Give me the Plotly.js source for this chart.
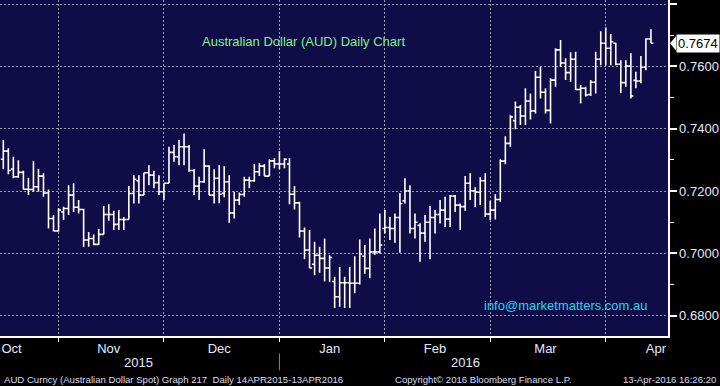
<!DOCTYPE html>
<html>
<head>
<meta charset="utf-8">
<script src="https://cdn.plot.ly/plotly-3.0.1.min.js"></script>
<style>
  html, body { margin: 0; padding: 0; background: #000; }
  #chart { width: 720px; height: 386px; }
</style>
</head>
<body>
<div id="chart"></div>
<script>
// ---- Data (AUD daily OHLC, mid-Oct 2015 .. mid-Apr 2016) ----
const open = [0.7302,0.7328,0.7271,0.7246,0.7260,0.7206,0.7205,0.7214,0.7248,0.7194,
0.7112,0.7072,0.7133,0.7144,0.7187,0.7148,0.7141,0.7043,0.7048,0.7029,
0.7061,0.7125,0.7125,0.7093,0.7109,0.7109,0.7192,0.7233,0.7187,0.7259,
0.7251,0.7227,0.7198,0.7225,0.7324,0.7310,0.7342,0.7342,0.7266,0.7216,
0.7230,0.7280,0.7187,0.7241,0.7193,0.7230,0.7130,0.7171,0.7189,0.7235,
0.7233,0.7262,0.7280,0.7248,0.7297,0.7287,0.7287,0.7287,0.7190,0.7162,
0.7072,0.7011,0.6965,0.6994,0.6984,0.6953,0.6910,0.6861,0.6906,0.6906,
0.6904,0.6904,0.6991,0.6952,0.7005,0.7005,0.7080,0.7083,0.7080,0.7115,
0.7169,0.7200,0.7080,0.7090,0.7065,0.7100,0.7115,0.7125,0.7139,0.7110,
0.7184,0.7155,0.7150,0.7225,0.7201,0.7196,0.7233,0.7126,0.7139,0.7173,
0.7296,0.7353,0.7426,0.7469,0.7441,0.7489,0.7457,0.7565,0.7517,0.7459,
0.7556,0.7653,0.7611,0.7580,0.7623,0.7526,0.7530,0.7510,0.7549,0.7623,
0.7674,0.7658,0.7674,0.7607,0.7548,0.7601,0.7555,0.7553,0.7597,0.7688];

const high = [0.7364,0.7337,0.7310,0.7299,0.7265,0.7243,0.7296,0.7271,0.7257,0.7205,
0.7123,0.7146,0.7150,0.7219,0.7225,0.7171,0.7143,0.7069,0.7061,0.7078,
0.7152,0.7158,0.7137,0.7139,0.7117,0.7216,0.7251,0.7251,0.7259,0.7283,
0.7265,0.7251,0.7225,0.7342,0.7348,0.7364,0.7385,0.7348,0.7270,0.7246,
0.7334,0.7283,0.7270,0.7283,0.7280,0.7251,0.7198,0.7195,0.7246,0.7246,
0.7287,0.7289,0.7287,0.7302,0.7305,0.7328,0.7305,0.7305,0.7216,0.7166,
0.7083,0.7075,0.7037,0.7021,0.7048,0.6994,0.6925,0.6956,0.6925,0.6956,
0.6991,0.7045,0.7027,0.7048,0.7080,0.7128,0.7139,0.7117,0.7128,0.7193,
0.7241,0.7219,0.7128,0.7097,0.7123,0.7152,0.7139,0.7171,0.7182,0.7187,
0.7187,0.7160,0.7248,0.7257,0.7212,0.7244,0.7257,0.7169,0.7190,0.7302,
0.7376,0.7444,0.7487,0.7476,0.7530,0.7513,0.7585,0.7599,0.7530,0.7562,
0.7658,0.7685,0.7626,0.7645,0.7647,0.7540,0.7535,0.7556,0.7647,0.7713,
0.7725,0.7704,0.7676,0.7620,0.7620,0.7642,0.7583,0.7633,0.7690,0.7719];

const low = [0.7270,0.7254,0.7241,0.7243,0.7205,0.7187,0.7198,0.7198,0.7182,0.7080,
0.7071,0.7070,0.7107,0.7123,0.7133,0.7128,0.7021,0.7021,0.7027,0.7027,
0.7061,0.7105,0.7075,0.7075,0.7075,0.7109,0.7160,0.7160,0.7187,0.7219,
0.7209,0.7187,0.7171,0.7225,0.7294,0.7283,0.7283,0.7262,0.7187,0.7171,
0.7227,0.7187,0.7160,0.7161,0.7180,0.7098,0.7112,0.7155,0.7182,0.7209,
0.7230,0.7248,0.7248,0.7248,0.7273,0.7270,0.7273,0.7158,0.7141,0.7051,
0.6981,0.6952,0.6930,0.6938,0.6910,0.6909,0.6825,0.6829,0.6825,0.6825,
0.6872,0.6900,0.6935,0.6920,0.6995,0.7000,0.7064,0.7043,0.7034,0.7002,
0.7160,0.7064,0.7048,0.6973,0.7037,0.6981,0.7064,0.7096,0.7085,0.7085,
0.7133,0.7075,0.7137,0.7171,0.7148,0.7155,0.7117,0.7107,0.7109,0.7166,
0.7286,0.7342,0.7398,0.7412,0.7412,0.7430,0.7449,0.7497,0.7449,0.7417,
0.7535,0.7599,0.7556,0.7551,0.7524,0.7481,0.7503,0.7505,0.7513,0.7604,
0.7604,0.7604,0.7604,0.7514,0.7535,0.7497,0.7530,0.7546,0.7588,0.7674];

const close = [0.7328,0.7266,0.7246,0.7260,0.7206,0.7205,0.7214,0.7248,0.7194,0.7112,
0.7072,0.7139,0.7144,0.7187,0.7148,0.7141,0.7043,0.7048,0.7029,0.7061,
0.7125,0.7125,0.7093,0.7109,0.7109,0.7192,0.7238,0.7187,0.7259,0.7251,
0.7227,0.7198,0.7225,0.7324,0.7310,0.7342,0.7342,0.7266,0.7216,0.7230,
0.7280,0.7187,0.7241,0.7190,0.7230,0.7130,0.7171,0.7189,0.7235,0.7233,
0.7262,0.7280,0.7248,0.7297,0.7287,0.7287,0.7302,0.7190,0.7162,0.7072,
0.7011,0.6953,0.6994,0.6984,0.6953,0.6987,0.6861,0.6906,0.6906,0.6904,
0.6904,0.6998,0.6952,0.7005,0.7005,0.7027,0.7083,0.7080,0.7115,0.7160,
0.7200,0.7080,0.7100,0.7065,0.7100,0.7115,0.7125,0.7139,0.7110,0.7184,
0.7155,0.7150,0.7225,0.7201,0.7196,0.7233,0.7126,0.7139,0.7173,0.7296,
0.7353,0.7438,0.7469,0.7441,0.7489,0.7457,0.7565,0.7517,0.7459,0.7556,
0.7653,0.7611,0.7580,0.7623,0.7526,0.7530,0.7508,0.7549,0.7623,0.7674,
0.7658,0.7679,0.7607,0.7548,0.7601,0.7505,0.7553,0.7597,0.7688,0.7674];

// trading-day index of the first bar of each month (Oct is partially shown)
const monthNames = ['Oct','Nov','Dec','Jan','Feb','Mar','Apr'];
const monthStart = [-11, 11, 32, 55, 76, 97, 120, 141];
const years = ['2015','2016'];
const yearFirstBar = [0, 55];

const yTicks = [0.68, 0.70, 0.72, 0.74, 0.76, 0.78];
const yMinor = [0.69, 0.71, 0.73, 0.75, 0.77];

// ---- derived ----
const n = close.length;
const barIdx = close.map((_, i) => i);
const xRange = [-0.66, 132.4];
const gridIdx = monthStart.slice(1, -1);
let labelPos = monthNames.map((m, i) => (monthStart[i] + monthStart[i + 1] - 1) / 2);
labelPos[0] = Math.max(labelPos[0], xRange[0] + 2.3);
const yearMid = [ (yearFirstBar[0] + yearFirstBar[1] - 1) / 2, (yearFirstBar[1] + n - 1) / 2 ];
const last = close[n - 1];

const FONT = 'Liberation Sans, Arial, sans-serif';
const AXIS_TXT = '#e4e9ff';
const GRID = '#9a9aaa';

const trace = {
  type: 'ohlc',
  x: barIdx, open: open, high: high, low: low, close: close,
  increasing: { line: { color: '#ffffff', width: 1.6 } },
  decreasing: { line: { color: '#ffffff', width: 1.6 } },
  tickwidth: 0.5,
  hoverinfo: 'skip',
  showlegend: false
};

const layout = {
  width: 720, height: 386,
  margin: { l: 0, r: 52, t: 0, b: 50, pad: 0 },
  paper_bgcolor: '#000000',
  plot_bgcolor: '#100c48',
  showlegend: false,
  xaxis: {
    type: 'linear', range: xRange, fixedrange: true,
    rangeslider: { visible: false },
    tickmode: 'array', tickvals: labelPos, ticktext: monthNames,
    ticklabeloverflow: 'allow',
    ticks: '', showgrid: false, zeroline: false,
    showline: true, linecolor: '#ffffff', linewidth: 1.5,
    tickfont: { family: FONT, size: 13, color: AXIS_TXT },
    minor: {
      tickmode: 'array', tickvals: gridIdx,
      ticks: 'outside', ticklen: 4, tickwidth: 1, tickcolor: '#ffffff',
      showgrid: true, gridcolor: GRID, griddash: '2px,2px', gridwidth: 1
    }
  },
  yaxis: {
    side: 'right', range: [0.6735, 0.7813], fixedrange: true,
    tickmode: 'array', tickvals: yTicks,
    ticktext: yTicks.map(v => v >= 0.78 ? '' : v.toFixed(4)),
    ticks: 'outside', ticklen: 7, tickwidth: 2, tickcolor: '#ffffff',
    showgrid: true, gridcolor: GRID, griddash: '2px,2px', gridwidth: 1,
    zeroline: false,
    showline: true, linecolor: '#ffffff', linewidth: 1.5,
    tickfont: { family: FONT, size: 13, color: AXIS_TXT },
    minor: { tickmode: 'array', tickvals: yMinor, ticks: 'outside', ticklen: 4, tickwidth: 1, tickcolor: '#ffffff', showgrid: false }
  },
  shapes: [
    { type: 'line', xref: 'x', yref: 'paper', x0: yearFirstBar[1], x1: yearFirstBar[1], y0: -0.052, y1: -0.102,
      line: { color: '#8a8a8a', width: 1 } },
    { type: 'path', xref: 'paper', yref: 'y',
      path: `M 1.003 ${last} L 1.012 ${last + 0.0023} L 1.012 ${last - 0.0023} Z`,
      fillcolor: '#ffffff', line: { color: '#ffffff', width: 0 } }
  ],
  annotations: [
    { text: 'Australian Dollar (AUD) Daily Chart', xref: 'paper', yref: 'paper', x: 0.4544, y: 0.876,
      xanchor: 'center', yanchor: 'middle', showarrow: false,
      font: { family: FONT, size: 13, color: '#84ee84' } },
    { text: 'info@marketmatters.com.au', xref: 'paper', yref: 'paper', x: 0.847, y: 0.0915,
      xanchor: 'center', yanchor: 'middle', showarrow: false,
      font: { family: FONT, size: 13, color: '#18d8ee' } },
    { text: years[0], xref: 'x', yref: 'paper', x: yearMid[0], y: -0.0775, xanchor: 'center', yanchor: 'middle',
      showarrow: false, font: { family: FONT, size: 13, color: AXIS_TXT } },
    { text: years[1], xref: 'x', yref: 'paper', x: yearMid[1], y: -0.0775, xanchor: 'center', yanchor: 'middle',
      showarrow: false, font: { family: FONT, size: 13, color: AXIS_TXT } },
    { text: 'AUD Curncy (Australian Dollar Spot) Graph 217  Daily 14APR2015-13APR2016', xref: 'paper', yref: 'paper',
      x: 0.003, y: -0.129, xanchor: 'left', yanchor: 'middle', showarrow: false,
      font: { family: FONT, size: 9.6, color: '#d6dcf2' } },
    { text: 'Copyright© 2016 Bloomberg Finance L.P.', xref: 'paper', yref: 'paper',
      x: 0.588, y: -0.129, xanchor: 'left', yanchor: 'middle', showarrow: false,
      font: { family: FONT, size: 9.6, color: '#d6dcf2' } },
    { text: '13-Apr-2016 16:26:20', xref: 'paper', yref: 'paper',
      x: 1.0749, y: -0.129, xanchor: 'right', yanchor: 'middle', showarrow: false,
      font: { family: FONT, size: 9.6, color: '#d6dcf2' } },
    { text: last.toFixed(4), xref: 'paper', yref: 'y', x: 1.012, y: last,
      xanchor: 'left', yanchor: 'middle', showarrow: false, bgcolor: '#ffffff', borderpad: 1,
      font: { family: FONT, size: 13, color: '#000000' } }
  ]
};

Plotly.newPlot('chart', [trace], layout, { displayModeBar: false, staticPlot: true });
</script>
</body>
</html>
